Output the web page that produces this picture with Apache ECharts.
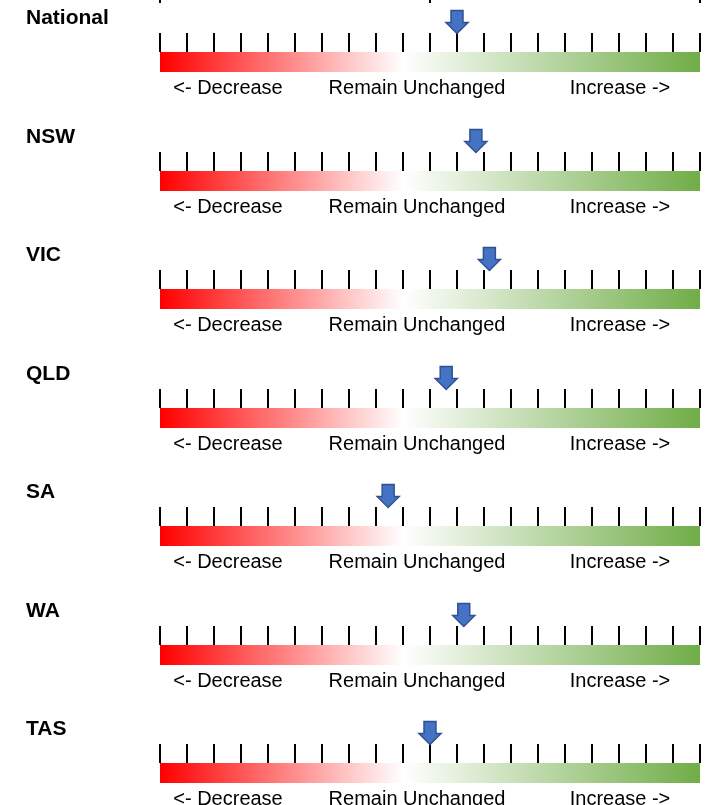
<!DOCTYPE html>
<html lang="en">
<head>
<meta charset="UTF-8" />
<title>Outlook by state</title>
<script src="https://cdn.jsdelivr.net/npm/echarts@6/dist/echarts.min.js"></script>
<style type="text/css">
html,body{margin:0;padding:0;background:#fff;}
#main{width:710px;height:805px;}
</style>
</head>
<body>
<div id="main"></div>
<script type="text/javascript">
// data
var regions = ['National', 'NSW', 'VIC', 'QLD', 'SA', 'WA', 'TAS'];
var outlook = [1.0, 1.7, 2.2, 0.6, -1.55, 1.25, 0];
var scaleMin = -10, scaleMax = 10, scaleStep = 1;
var scaleLabels = ['<- Decrease', 'Remain Unchanged', 'Increase ->'];

// layout
var barLeft = 160, barWidth = 540, barHeight = 20;
var firstTop = 52, panelGap = 118.5;
var scaleLabelX = [228, 417, 620];
var fontFamily = '"Liberation Sans", Arial, sans-serif';
var arrowPath = 'path://M5,0 L17,0 L17,12 L22,12 L11,23 L0,12 L5,12 Z';

var grids = [], xAxes = [], yAxes = [], series = [], graphics = [];

function gradient(stops) {
    return {type: 'linear', x: 0, y: 0, x2: 1, y2: 0, colorStops: stops};
}

for (var i = 0; i < regions.length; i++) {
    var barTop = Math.round(firstTop + i * panelGap);
    grids.push({
        left: barLeft, width: barWidth, top: barTop, height: barHeight,
        show: true, borderWidth: 0,
        backgroundColor: gradient([
            {offset: 0, color: '#ff0000'},
            {offset: 0.45, color: '#ffffff'},
            {offset: 1, color: '#70ad47'}
        ])
    });
    xAxes.push({
        gridIndex: i, type: 'value', position: 'top',
        min: scaleMin, max: scaleMax, interval: scaleStep,
        axisLine: {show: false, onZero: false},
        axisTick: {show: true, inside: false, length: 19, lineStyle: {color: '#000', width: 2}},
        axisLabel: {show: false},
        splitLine: {show: false}
    });
    yAxes.push({
        gridIndex: i, type: 'value', min: 0, max: 1, show: false
    });
    series.push({
        type: 'scatter', xAxisIndex: i, yAxisIndex: i,
        data: [[outlook[i], 0.5]],
        symbol: arrowPath, symbolSize: [22, 23], symbolOffset: [0, -40],
        clip: false, silent: true, z: 5,
        itemStyle: {
            color: '#4472c4', opacity: 1,
            borderColor: '#2f528f', borderWidth: 1.5
        }
    });
    graphics.push({
        type: 'text', x: 26, y: barTop - 34,
        style: {
            text: regions[i], fontFamily: fontFamily, fontSize: 21, fontWeight: 'bold',
            fill: '#000', verticalAlign: 'middle'
        }
    });
    for (var k = 0; k < scaleLabels.length; k++) {
        graphics.push({
            type: 'text', x: scaleLabelX[k], y: barTop + 36,
            style: {
                text: scaleLabels[k], fontFamily: fontFamily, fontSize: 20,
                fill: '#000', align: 'center', verticalAlign: 'middle'
            }
        });
    }
}

// leftover tick marks of the panel above, cut at the top edge
var n = regions.length;
grids.push({left: barLeft, width: barWidth, top: 3, height: 1, show: false});
xAxes.push({
    gridIndex: n, type: 'value', position: 'top',
    min: scaleMin, max: scaleMax, interval: 10,
    axisLine: {show: false, onZero: false},
    axisTick: {show: true, length: 3, lineStyle: {color: '#000', width: 2}},
    axisLabel: {show: false}, splitLine: {show: false}
});
yAxes.push({gridIndex: n, type: 'value', min: 0, max: 1, show: false});

var myChart = echarts.init(document.getElementById('main'));
myChart.setOption({
    animation: false,
    backgroundColor: '#fff',
    grid: grids,
    xAxis: xAxes,
    yAxis: yAxes,
    series: series,
    graphic: graphics
});
</script>
</body>
</html>
